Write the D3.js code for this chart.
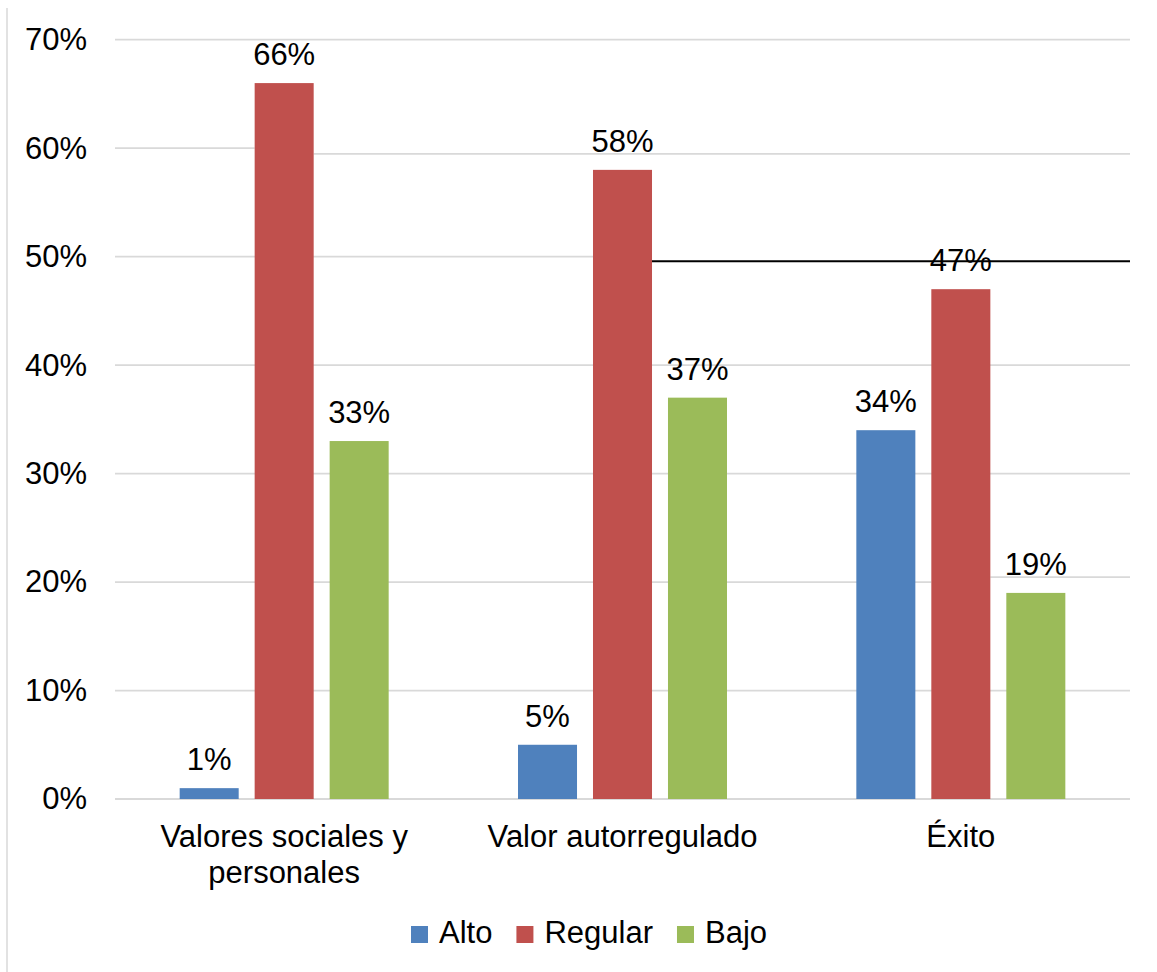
<!DOCTYPE html>
<html>
<head>
<meta charset="utf-8">
<script src="https://cdn.jsdelivr.net/npm/d3@7"></script>
<style>
  html, body { margin: 0; padding: 0; background: #fff; }
  svg { display: block; font-family: "Liberation Sans", Arial, sans-serif; }
</style>
</head>
<body>
<svg id="chart" width="1157" height="972"></svg>
<script>
// Data
const categories = ["Valores sociales y personales", "Valor autorregulado", "Éxito"];
const seriesNames = ["Alto", "Regular", "Bajo"];
const alto = [1, 5, 34];
const regular = [66, 58, 47];
const bajo = [33, 37, 19];
const yTicks = [0, 10, 20, 30, 40, 50, 60, 70];
const seriesColors = ["#4f81bd", "#c0504d", "#9bbb59"];

// Gridline pieces that continue at a slightly shifted level to the right of a bar
// [tick, category index, series index, shifted value, stroke]
const gridTick = [60, 50, 20];
const gridAfterCat = [0, 1, 2];
const gridAfterSeries = [1, 1, 1];
const gridShiftedValue = [59.47, 49.57, 20.45];
const gridShiftedColor = ["#d9d9d9", "#000000", "#d9d9d9"];

const values = [alto, regular, bajo];

const svg = d3.select("#chart");
const W = 1157, H = 972;
const plot = { left: 115, right: 1130, top: 39.7, bottom: 799 };
const fontSize = 31;

// Chart frame edge on the left
svg.append("line")
  .attr("x1", 7).attr("x2", 7).attr("y1", 8).attr("y2", H)
  .attr("stroke", "#d9d9d9").attr("stroke-width", 1.5);

const y = d3.scaleLinear().domain([0, 70]).range([plot.bottom, plot.top]);
const x0 = d3.scaleBand().domain(categories).range([plot.left, plot.right]).paddingInner(0).paddingOuter(0);
// Inner band for the three series within each category
const clusterW = 209;
const x1 = d3.scaleBand().domain(seriesNames)
  .range([(x0.bandwidth() - clusterW) / 2, (x0.bandwidth() + clusterW) / 2])
  .paddingInner(0.213).paddingOuter(0);

const barLeft = (ci, si) => x0(categories[ci]) + x1(seriesNames[si]);
const barRight = (ci, si) => barLeft(ci, si) + x1.bandwidth();

// Gridlines
const gGrid = svg.append("g");
yTicks.forEach(t => {
  const k = gridTick.indexOf(t);
  const xEnd = k >= 0 ? barLeft(gridAfterCat[k], gridAfterSeries[k]) : plot.right;
  gGrid.append("line")
    .attr("x1", plot.left).attr("x2", xEnd)
    .attr("y1", y(t)).attr("y2", y(t))
    .attr("stroke", "#d9d9d9").attr("stroke-width", 1.8);
});
gridTick.forEach((t, k) => {
  gGrid.append("line")
    .attr("x1", barRight(gridAfterCat[k], gridAfterSeries[k])).attr("x2", plot.right)
    .attr("y1", y(gridShiftedValue[k])).attr("y2", y(gridShiftedValue[k]))
    .attr("stroke", gridShiftedColor[k]).attr("stroke-width", gridShiftedColor[k] === "#000000" ? 2 : 1.8);
});

// Y axis labels
const yAxis = d3.axisLeft(y).tickValues(yTicks).tickFormat(d => d + "%").tickSize(0).tickPadding(28);
const gy = svg.append("g").attr("transform", `translate(${plot.left},0)`).call(yAxis);
gy.select(".domain").remove();
gy.selectAll("text").attr("font-size", fontSize).attr("fill", "#000")
  .attr("font-family", "'Liberation Sans', Arial, sans-serif").attr("dy", "0.32em");

// Bars
const groups = svg.append("g").selectAll("g")
  .data(categories).join("g")
  .attr("transform", d => `translate(${x0(d)},0)`);

groups.selectAll("rect")
  .data((d, ci) => seriesNames.map((s, si) => ({ s, si, v: values[si][ci] })))
  .join("rect")
  .attr("x", d => x1(d.s))
  .attr("width", x1.bandwidth())
  .attr("y", d => y(d.v))
  .attr("height", d => y(0) - y(d.v))
  .attr("fill", d => seriesColors[d.si]);

groups.selectAll("text.val")
  .data((d, ci) => seriesNames.map((s, si) => ({ s, si, v: values[si][ci] })))
  .join("text")
  .attr("class", "val")
  .attr("x", d => x1(d.s) + x1.bandwidth() / 2)
  .attr("y", d => y(d.v) - 18)
  .attr("text-anchor", "middle")
  .attr("font-size", fontSize)
  .attr("fill", "#000")
  .text(d => d.v + "%");

// Category labels, wrapped to the band width
const gx = svg.append("g");
categories.forEach(c => {
  const t = gx.append("text")
    .attr("x", x0(c) + x0.bandwidth() / 2)
    .attr("y", 847)
    .attr("text-anchor", "middle")
    .attr("font-size", fontSize)
    .attr("fill", "#000");
  const words = c.split(" ");
  let line = [];
  let tspan = t.append("tspan").attr("x", x0(c) + x0.bandwidth() / 2).attr("dy", 0);
  let lineNo = 0;
  words.forEach(w => {
    line.push(w);
    tspan.text(line.join(" "));
    if (tspan.node().getComputedTextLength() > x0.bandwidth() - 20 && line.length > 1) {
      line.pop();
      tspan.text(line.join(" "));
      line = [w];
      lineNo++;
      tspan = t.append("tspan").attr("x", x0(c) + x0.bandwidth() / 2).attr("dy", 36).text(w);
    }
  });
});

// Legend
const legend = svg.append("g");
let lx = 411;
seriesNames.forEach((s, i) => {
  legend.append("rect")
    .attr("x", lx).attr("y", 926).attr("width", 17).attr("height", 17)
    .attr("fill", seriesColors[i]);
  const t = legend.append("text")
    .attr("x", lx + 28).attr("y", 943)
    .attr("font-size", fontSize).attr("fill", "#000").text(s);
  lx += 28 + t.node().getComputedTextLength() + 24;
});
</script>
</body>
</html>
